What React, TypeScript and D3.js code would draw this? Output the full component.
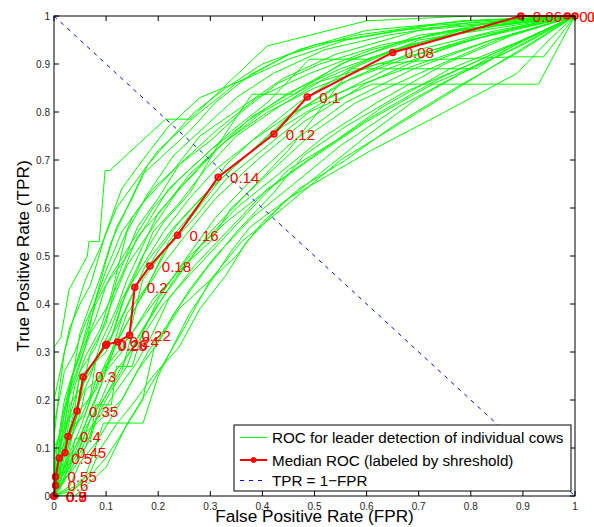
import React from 'react';
import * as d3 from 'd3';

const width = 594;
const height = 527;
const margin = { top: 16, left: 54, right: 19, bottom: 31 };

// per-cow ROC curves, [FPR, TPR]
const cowCurves: [number, number][][] = [
  [[0,0],[0,0.31],[0.013,0.33],[0.029,0.43],[0.064,0.5],[0.067,0.53],[0.087,0.53],[0.098,0.678],[0.107,0.678],[0.214,0.785],[0.261,0.785],[0.409,0.9375],[0.6,0.99],[0.8,1],[1,1]],
  [[0,0],[0,0.12],[0.01,0.22],[0.02,0.3],[0.04,0.38],[0.06,0.45],[0.09,0.52],[0.12,0.6],[0.16,0.66],[0.2,0.72],[0.27,0.79],[0.35,0.86],[0.45,0.92],[0.58,0.96],[0.78,0.99],[1,1]],
  [[0,0],[0.005,0.06],[0.015,0.16],[0.03,0.23],[0.05,0.3],[0.07,0.38],[0.1,0.47],[0.13,0.55],[0.17,0.61],[0.23,0.68],[0.28,0.75],[0.36,0.81],[0.44,0.87],[0.54,0.92],[0.7,0.97],[1,1]],
  [[0,0],[0.01,0.04],[0.02,0.1],[0.04,0.18],[0.05,0.26],[0.08,0.31],[0.11,0.4],[0.14,0.48],[0.19,0.56],[0.24,0.64],[0.3,0.71],[0.38,0.79],[0.47,0.85],[0.57,0.91],[0.72,0.96],[0.9,1],[1,1]],
  [[0,0],[0.02,0.03],[0.03,0.09],[0.05,0.14],[0.07,0.2],[0.1,0.28],[0.13,0.34],[0.16,0.4],[0.2,0.47],[0.25,0.54],[0.31,0.62],[0.39,0.7],[0.48,0.78],[0.6,0.86],[0.74,0.93],[0.9,0.98],[1,1]],
  [[0,0],[0.01,0.02],[0.04,0.06],[0.07,0.12],[0.09,0.19],[0.12,0.25],[0.15,0.31],[0.19,0.38],[0.23,0.45],[0.28,0.52],[0.35,0.6],[0.43,0.67],[0.52,0.75],[0.62,0.82],[0.75,0.9],[0.88,0.96],[1,1]],
  [[0,0],[0.03,0],[0.06,0.04],[0.095,0.152],[0.171,0.152],[0.2,0.25],[0.26,0.38],[0.34,0.51],[0.376,0.56],[0.45,0.62],[0.607,0.719],[0.75,0.8],[0.888,0.88],[0.95,0.95],[1,1]],
  [[0,0],[0.04,0],[0.1,0.06],[0.14,0.15],[0.18,0.22],[0.25,0.35],[0.3,0.45],[0.36,0.53],[0.44,0.6],[0.55,0.7],[0.7,0.8],[0.85,0.9],[1,1]],
  [[0,0],[0,0.05],[0.02,0.1],[0.04,0.15],[0.05,0.22],[0.07,0.27],[0.1,0.3],[0.12,0.36],[0.14,0.43],[0.17,0.5],[0.21,0.57],[0.26,0.63],[0.32,0.74],[0.38,0.837],[0.46,0.837],[0.55,0.9],[0.7,0.96],[1,1]],
  [[0,0],[0.01,0.03],[0.03,0.07],[0.06,0.1],[0.08,0.16],[0.11,0.22],[0.14,0.27],[0.16,0.33],[0.2,0.4],[0.24,0.46],[0.3,0.55],[0.37,0.63],[0.45,0.72],[0.57,0.89],[0.81,0.89],[0.9,0.95],[1,1]],
  [[0,0],[0,0.08],[0.01,0.13],[0.02,0.2],[0.04,0.27],[0.06,0.33],[0.08,0.4],[0.11,0.46],[0.15,0.53],[0.19,0.6],[0.24,0.66],[0.3,0.72],[0.37,0.78],[0.45,0.84],[0.55,0.89],[0.68,0.94],[0.85,0.98],[1,1]],
  [[0,0],[0.02,0.08],[0.03,0.14],[0.06,0.17],[0.08,0.24],[0.11,0.29],[0.14,0.38],[0.18,0.44],[0.22,0.52],[0.27,0.58],[0.33,0.66],[0.41,0.73],[0.49,0.8],[0.61,0.858],[0.93,0.858],[1,1]],
  [[0,0],[0.01,0.05],[0.02,0.12],[0.03,0.19],[0.06,0.24],[0.09,0.3],[0.12,0.35],[0.15,0.42],[0.18,0.49],[0.23,0.56],[0.29,0.63],[0.36,0.7],[0.44,0.77],[0.53,0.83],[0.64,0.89],[0.8,0.95],[1,1]],
  [[0,0],[0.03,0.02],[0.05,0.07],[0.08,0.11],[0.12,0.18],[0.15,0.24],[0.18,0.3],[0.22,0.36],[0.26,0.43],[0.31,0.5],[0.38,0.58],[0.46,0.65],[0.55,0.73],[0.66,0.81],[0.78,0.88],[0.9,0.94],[1,1]],
  [[0,0],[0.005,0.1],[0.02,0.17],[0.035,0.25],[0.06,0.32],[0.08,0.37],[0.1,0.44],[0.14,0.5],[0.18,0.57],[0.22,0.64],[0.28,0.7],[0.34,0.76],[0.41,0.82],[0.49,0.91],[0.6,0.91],[0.78,0.97],[1,1]],
  [[0,0],[0.02,0.06],[0.05,0.1],[0.07,0.16],[0.1,0.21],[0.13,0.26],[0.15,0.34],[0.19,0.41],[0.25,0.48],[0.3,0.53],[0.34,0.6],[0.42,0.68],[0.5,0.76],[0.58,0.82],[0.7,0.88],[0.85,0.95],[1,1]],
  [[0,0],[0.01,0.02],[0.02,0.07],[0.04,0.1],[0.06,0.15],[0.08,0.2],[0.1,0.26],[0.13,0.3],[0.15,0.36],[0.17,0.45],[0.21,0.51],[0.27,0.59],[0.32,0.66],[0.4,0.74],[0.48,0.81],[0.57,0.87],[0.7,0.93],[0.85,0.97],[1,1]],
  [[0,0],[0,0.03],[0.01,0.09],[0.03,0.13],[0.05,0.18],[0.08,0.22],[0.1,0.27],[0.13,0.31],[0.17,0.37],[0.21,0.43],[0.26,0.5],[0.33,0.57],[0.4,0.63],[0.49,0.7],[0.6,0.78],[0.73,0.86],[0.86,0.92],[1,1]],
  [[0,0],[0.03,0.01],[0.06,0.03],[0.1,0.08],[0.13,0.13],[0.17,0.2],[0.192,0.308],[0.23,0.38],[0.29,0.47],[0.35,0.55],[0.42,0.63],[0.48,0.71],[0.56,0.77],[0.67,0.84],[0.8,0.9],[0.92,0.96],[1,1]],
  [[0,0],[0.01,0.04],[0.03,0.08],[0.05,0.12],[0.07,0.18],[0.09,0.23],[0.11,0.3],[0.13,0.37],[0.16,0.44],[0.2,0.51],[0.24,0.57],[0.3,0.64],[0.37,0.71],[0.45,0.79],[0.55,0.86],[0.67,0.91],[0.82,0.96],[1,1]],
  [[0,0],[0,0.15],[0.01,0.2],[0.02,0.26],[0.04,0.3],[0.06,0.36],[0.09,0.43],[0.12,0.5],[0.15,0.58],[0.19,0.64],[0.25,0.7],[0.31,0.76],[0.39,0.83],[0.49,0.88],[0.61,0.93],[0.76,0.97],[1,1]],
  [[0,0],[0.01,0.01],[0.02,0.04],[0.04,0.08],[0.06,0.13],[0.09,0.17],[0.12,0.22],[0.16,0.28],[0.19,0.34],[0.22,0.41],[0.27,0.48],[0.34,0.56],[0.41,0.64],[0.5,0.71],[0.61,0.79],[0.74,0.87],[0.88,0.94],[1,1]],
  [[0,0],[0.02,0.1],[0.03,0.16],[0.05,0.2],[0.07,0.25],[0.09,0.32],[0.12,0.39],[0.14,0.45],[0.17,0.52],[0.2,0.59],[0.25,0.65],[0.32,0.73],[0.4,0.8],[0.5,0.86],[0.62,0.9],[0.75,0.91],[0.89,0.915],[0.94,0.915],[1,1]],
  [[0,0],[0.04,0.02],[0.07,0.05],[0.09,0.1],[0.12,0.15],[0.15,0.19],[0.19,0.25],[0.24,0.31],[0.28,0.39],[0.33,0.46],[0.37,0.53],[0.44,0.61],[0.52,0.68],[0.6,0.75],[0.7,0.83],[0.83,0.91],[1,1]],
  [[0,0],[0,0.06],[0.02,0.13],[0.04,0.2],[0.05,0.25],[0.08,0.28],[0.11,0.33],[0.13,0.4],[0.16,0.47],[0.19,0.55],[0.24,0.61],[0.29,0.68],[0.35,0.75],[0.43,0.81],[0.52,0.87],[0.65,0.93],[0.83,0.98],[1,1]],
  [[0,0],[0.01,0.06],[0.03,0.11],[0.05,0.17],[0.06,0.22],[0.1,0.26],[0.12,0.32],[0.15,0.38],[0.19,0.46],[0.22,0.53],[0.28,0.61],[0.33,0.69],[0.39,0.75],[0.47,0.82],[0.57,0.89],[0.7,0.95],[1,1]],
  [[0,0],[0.02,0.04],[0.04,0.09],[0.06,0.14],[0.09,0.2],[0.11,0.25],[0.14,0.29],[0.18,0.35],[0.21,0.4],[0.26,0.46],[0.32,0.53],[0.38,0.6],[0.45,0.68],[0.54,0.74],[0.63,0.81],[0.76,0.89],[0.9,0.95],[1,1]],
  [[0,0],[0.005,0.03],[0.02,0.06],[0.03,0.12],[0.05,0.16],[0.07,0.21],[0.08,0.28],[0.11,0.35],[0.13,0.41],[0.17,0.48],[0.21,0.55],[0.26,0.62],[0.31,0.68],[0.38,0.74],[0.46,0.8],[0.57,0.85],[0.7,0.9],[0.84,0.95],[1,1]],
  [[0,0],[0.03,0.05],[0.05,0.09],[0.07,0.14],[0.1,0.17],[0.13,0.2],[0.16,0.26],[0.2,0.32],[0.24,0.39],[0.3,0.45],[0.35,0.5],[0.4,0.57],[0.47,0.64],[0.56,0.7],[0.65,0.77],[0.77,0.85],[0.9,0.93],[1,1]],
  [[0,0],[0.01,0.1],[0.02,0.14],[0.03,0.22],[0.05,0.28],[0.07,0.34],[0.1,0.39],[0.13,0.46],[0.16,0.54],[0.21,0.6],[0.26,0.67],[0.33,0.74],[0.41,0.8],[0.5,0.85],[0.62,0.9],[0.73,0.93],[0.87,0.97],[1,1]],
  [[0,0],[0.01,0.07],[0.02,0.18],[0.04,0.24],[0.06,0.31],[0.08,0.41],[0.1,0.49],[0.12,0.56],[0.15,0.62],[0.18,0.69],[0.22,0.74],[0.27,0.8],[0.33,0.85],[0.4,0.9],[0.5,0.94],[0.66,0.97],[1,1]],
  [[0,0],[0,0.1],[0.02,0.15],[0.03,0.21],[0.05,0.34],[0.07,0.4],[0.09,0.46],[0.11,0.53],[0.14,0.6],[0.17,0.67],[0.21,0.71],[0.26,0.76],[0.31,0.82],[0.38,0.88],[0.47,0.93],[0.6,0.97],[0.8,0.99],[1,1]],
  [[0,0],[0.01,0.11],[0.03,0.17],[0.04,0.23],[0.06,0.29],[0.09,0.35],[0.11,0.42],[0.14,0.55],[0.18,0.63],[0.23,0.71],[0.29,0.77],[0.35,0.83],[0.42,0.88],[0.52,0.93],[0.64,0.96],[0.82,0.99],[1,1]],
  [[0,0],[0.02,0.05],[0.03,0.1],[0.05,0.2],[0.07,0.3],[0.1,0.36],[0.12,0.45],[0.16,0.56],[0.2,0.62],[0.24,0.69],[0.3,0.74],[0.36,0.8],[0.43,0.86],[0.51,0.9],[0.63,0.94],[0.78,0.97],[1,1]],
  [[0,0],[0,0.2],[0.01,0.25],[0.03,0.35],[0.05,0.4],[0.07,0.44],[0.1,0.55],[0.13,0.64],[0.17,0.7],[0.22,0.77],[0.28,0.83],[0.37,0.87],[0.45,0.91],[0.56,0.95],[0.72,0.98],[1,1]],
  [[0,0],[0.01,0.05],[0.03,0.05],[0.04,0.12],[0.07,0.12],[0.08,0.19],[0.11,0.19],[0.12,0.27],[0.15,0.27],[0.17,0.34],[0.2,0.41],[0.25,0.49],[0.31,0.58],[0.38,0.66],[0.46,0.74],[0.56,0.82],[0.69,0.89],[0.84,0.95],[1,1]],
];

// median ROC, labelled by threshold
const thresholds = ['0.9','0.8','0.7','0.6','0.55','0.5','0.45','0.4','0.35','0.3','0.28','0.26','0.24','0.22','0.2','0.18','0.16','0.14','0.12','0.1','0.08','0.06','0.04','0.02'];
const medianFpr = [0, 0, 0, 0.003, 0.003, 0.01, 0.021, 0.027, 0.044, 0.056, 0.099, 0.101, 0.122, 0.145, 0.155, 0.184, 0.237, 0.315, 0.422, 0.486, 0.65, 0.896, 0.985, 1];
const medianTpr = [0, 0, 0, 0.022, 0.04, 0.079, 0.09, 0.124, 0.177, 0.248, 0.314, 0.316, 0.321, 0.335, 0.435, 0.479, 0.543, 0.664, 0.754, 0.831, 0.924, 1, 1, 1];

const ticks = [0, 0.1, 0.2, 0.3, 0.4, 0.5, 0.6, 0.7, 0.8, 0.9, 1];
const legendLabels = ['ROC for leader detection of individual cows', 'Median ROC (labeled by shreshold)', 'TPR = 1\u2212FPR'];

const font = '"Liberation Sans", Arial, Helvetica, sans-serif';

export default function App() {
  const x = d3.scaleLinear().domain([0, 1]).range([margin.left, width - margin.right]);
  const y = d3.scaleLinear().domain([0, 1]).range([height - margin.bottom, margin.top]);
  const line = d3.line<[number, number]>().x(d => x(d[0])).y(d => y(d[1]));
  const median: [number, number][] = medianFpr.map((f, i) => [f, medianTpr[i]]);
  const x0 = x(0), x1 = x(1), y0 = y(0), y1 = y(1);
  const tl = 5;
  const lg = { x: 234, y: 425, w: 337, h: 66 };
  const rows = [lg.y + 12.5, lg.y + 35, lg.y + 55.5];

  return (
    <svg width={width} height={height} style={{ position: 'absolute', left: 0, top: 0, background: '#fff' }} fontFamily={font}>
      <defs>
        <clipPath id="plot-clip">
          <rect x={x0} y={y1} width={x1 - x0} height={y0 - y1} />
        </clipPath>
      </defs>
      <g clipPath="url(#plot-clip)">
        {cowCurves.map((c, i) => (
          <path key={i} d={line(c) || ''} fill="none" stroke="#00ff00" strokeWidth={1} />
        ))}
        <line x1={x(0)} y1={y(1)} x2={x(1)} y2={y(0)} stroke="#0000ff" strokeWidth={1} strokeDasharray="4 5" />
      </g>
      <path d={line(median) || ''} fill="none" stroke="#ff0000" strokeWidth={2} />
      {median.map((d, i) => (
        <circle key={i} cx={x(d[0])} cy={y(d[1])} r={3} fill="#ff0000" fillOpacity={0.6} stroke="#ff0000" strokeWidth={1.5} />
      ))}
      {median.map((d, i) => (
        <text key={i} x={x(d[0]) + 12} y={y(d[1]) + 5.5} fontSize={15} fill="#ff0000">{thresholds[i]}</text>
      ))}

      {/* frame and ticks */}
      <rect x={x0} y={y1} width={x1 - x0} height={y0 - y1} fill="none" stroke="#000" strokeWidth={1} />
      {ticks.map(t => (
        <g key={'x' + t}>
          <line x1={x(t)} x2={x(t)} y1={y0} y2={y0 - tl} stroke="#000" />
          <line x1={x(t)} x2={x(t)} y1={y1} y2={y1 + tl} stroke="#000" />
          <text x={x(t)} y={y0 + 14} fontSize={10} textAnchor="middle" fill="#262626">{d3.format('~g')(t)}</text>
        </g>
      ))}
      {ticks.map(t => (
        <g key={'y' + t}>
          <line x1={x0} x2={x0 + tl} y1={y(t)} y2={y(t)} stroke="#000" />
          <line x1={x1} x2={x1 - tl} y1={y(t)} y2={y(t)} stroke="#000" />
          <text x={x0 - 4} y={y(t) + 3.5} fontSize={10} textAnchor="end" fill="#262626">{d3.format('~g')(t)}</text>
        </g>
      ))}
      <text x={(x0 + x1) / 2} y={522} fontSize={17.2} textAnchor="middle" fill="#000">False Positive Rate (FPR)</text>
      <text transform={`translate(29,${(y0 + y1) / 2}) rotate(-90)`} fontSize={17.2} textAnchor="middle" fill="#000">True Positive Rate (TPR)</text>

      {/* legend */}
      <rect x={lg.x} y={lg.y} width={lg.w} height={lg.h} fill="#fff" stroke="#000" strokeWidth={1} />
      <line x1={240} x2={267} y1={rows[0]} y2={rows[0]} stroke="#00ff00" />
      <line x1={240} x2={267} y1={rows[1]} y2={rows[1]} stroke="#ff0000" strokeWidth={2} />
      <circle cx={253.5} cy={rows[1]} r={2.5} fill="#ff0000" stroke="#ff0000" />
      <line x1={240} x2={267} y1={rows[2]} y2={rows[2]} stroke="#0000ff" strokeDasharray="4 5" />
      {legendLabels.map((l, i) => (
        <text key={l} x={272} y={rows[i] + 5.5} fontSize={15.2} fill="#000">{l}</text>
      ))}
    </svg>
  );
}
